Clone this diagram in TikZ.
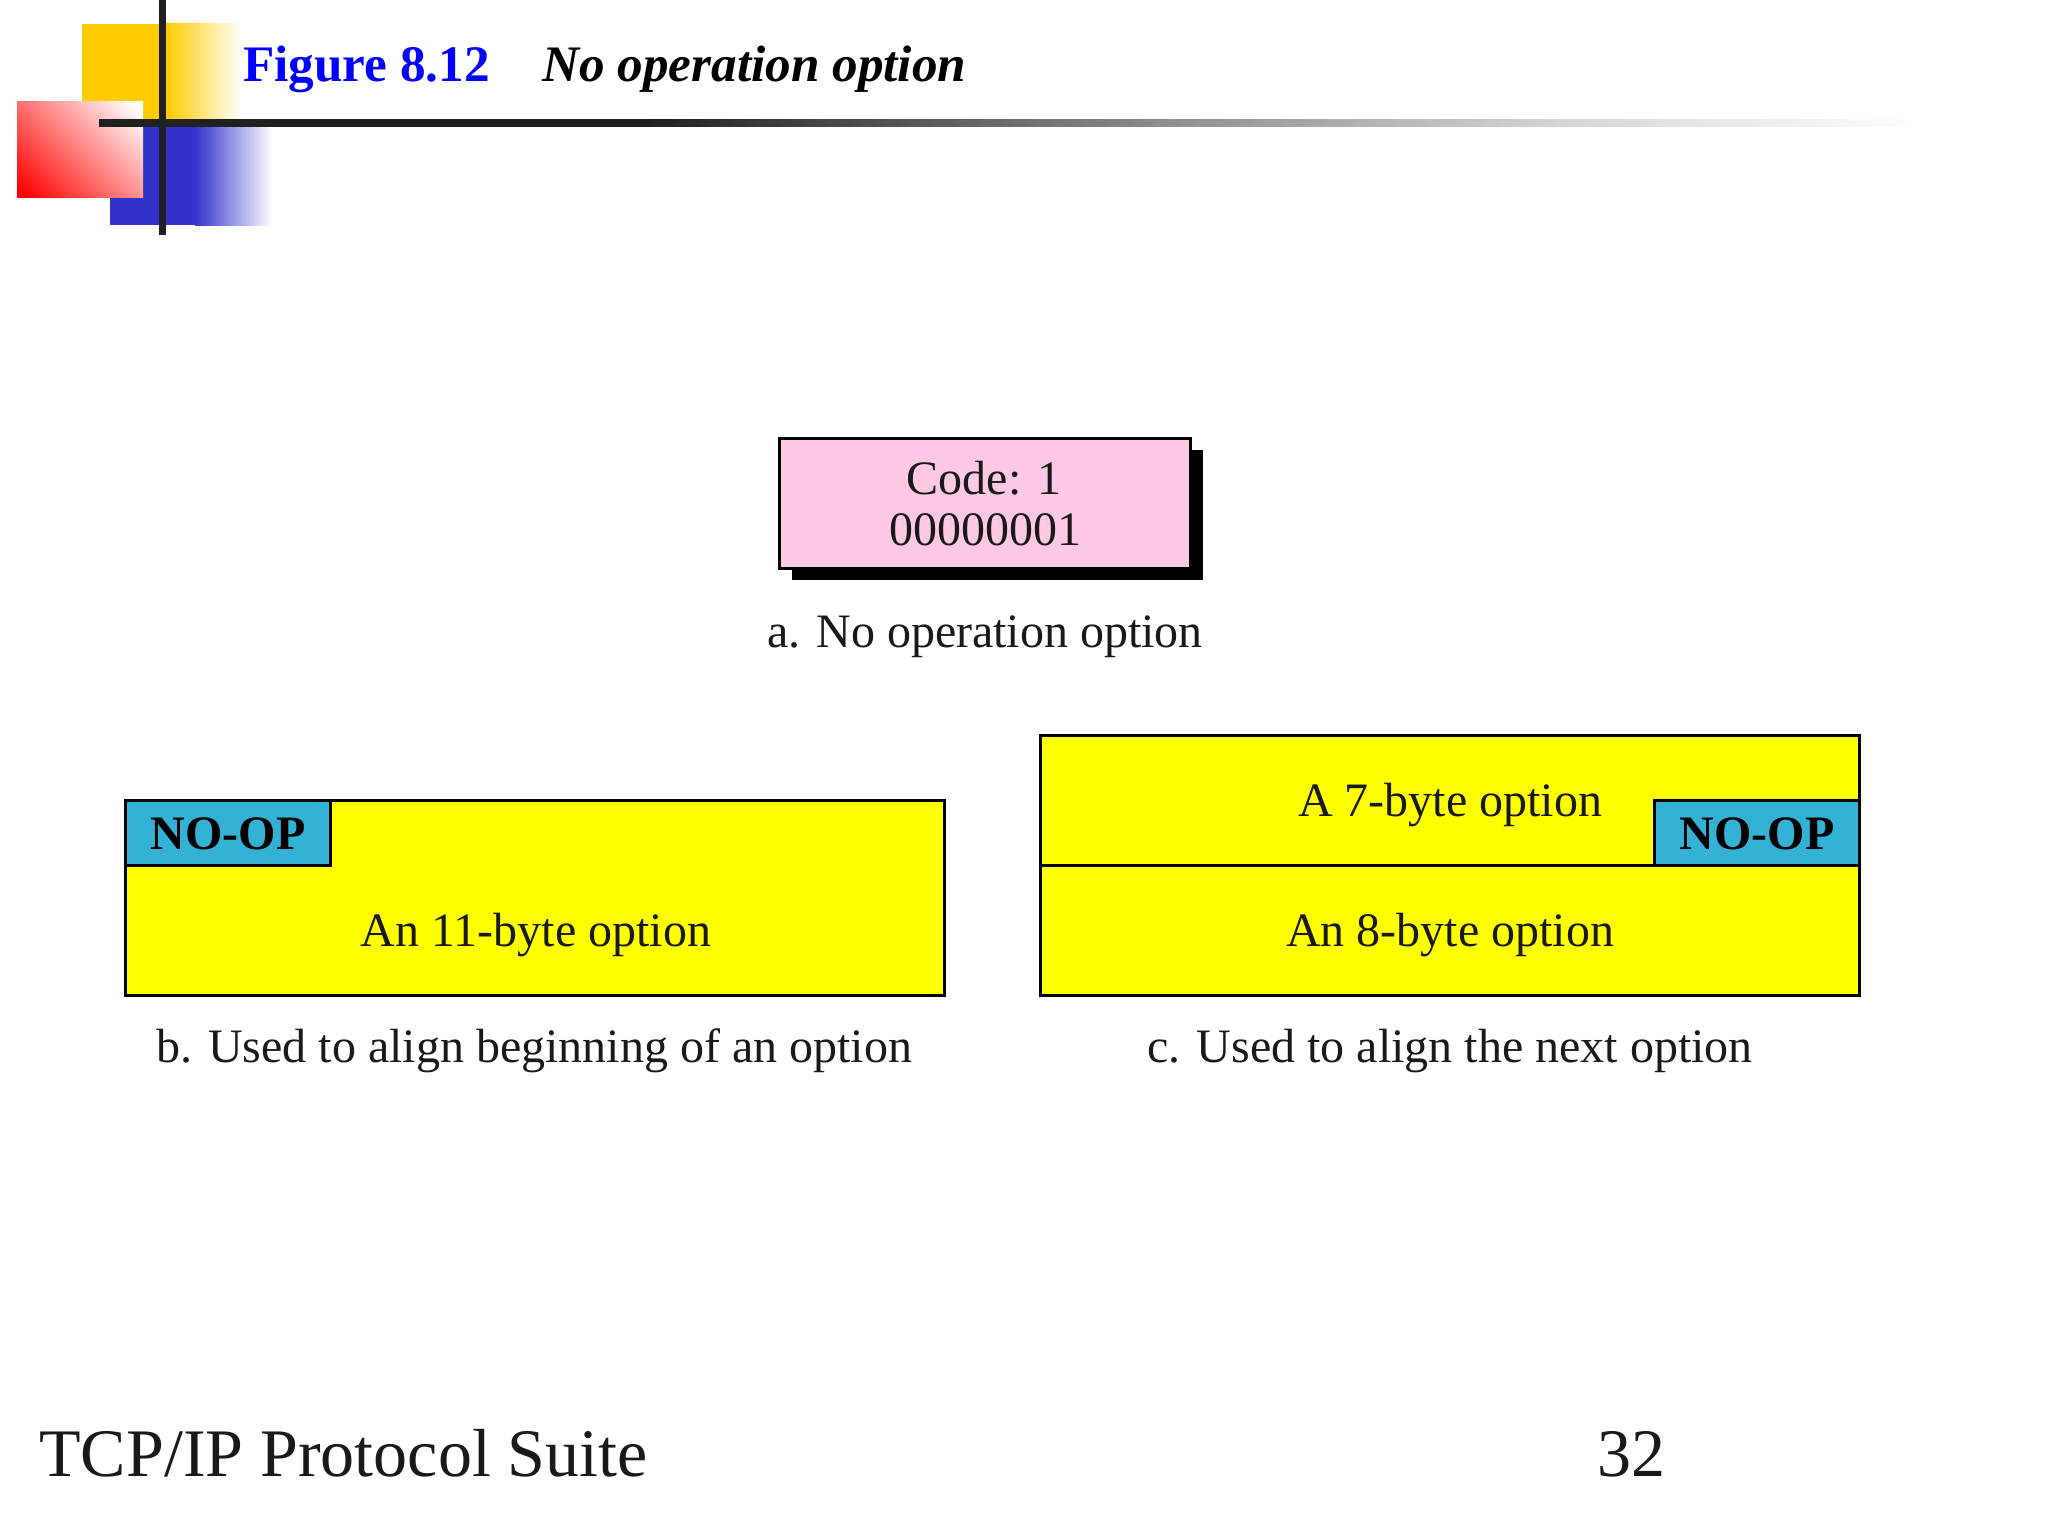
\documentclass[tikz,border=0pt]{standalone}
\usepackage{fontspec}
\setmainfont{Liberation Serif}
\definecolor{logoyellow}{RGB}{255,204,0}
\definecolor{logoblue}{RGB}{51,51,204}
\definecolor{barblack}{RGB}{32,32,32}
\definecolor{pinkfill}{RGB}{255,200,228}
\definecolor{nopcyan}{RGB}{51,178,214}
\definecolor{optyellow}{RGB}{255,255,0}
\pgfdeclarehorizontalshading{barfade}{100bp}{color(0bp)=(barblack); color(40bp)=(barblack); color(54.5bp)=(barblack!50!white); color(65.3bp)=(barblack!18!white); color(75bp)=(white); color(100bp)=(white)}
\pgfdeclareverticalshading{redfade}{100bp}{color(0bp)=(red); color(17bp)=(red); color(82bp)=(white); color(100bp)=(white)}
\tikzset{
  x=0.5pt,y=-0.5pt,
  optbox/.style={draw=black,fill=optyellow,line width=1.5pt,inner sep=0pt,outer sep=0pt},
  nopbox/.style={draw=black,fill=nopcyan,line width=1.5pt,inner sep=0pt,outer sep=0pt},
  pinkbox/.style={draw=black,fill=pinkfill,line width=1.5pt,inner sep=0pt,outer sep=0pt},
  shadowbox/.style={fill=black,inner sep=0pt,outer sep=0pt},
  bodytext/.style={anchor=base,inner sep=0pt,font=\fontsize{24}{28}\selectfont,text=black!90},
  noptext/.style={anchor=base,inner sep=0pt,font=\fontsize{24}{28}\selectfont\bfseries,text=black},
  titletext/.style={anchor=base west,inner sep=0pt,font=\fontsize{25.6}{30}\selectfont\bfseries},
  foottext/.style={anchor=base west,inner sep=0pt,font=\fontsize{34}{40}\selectfont,text=black!90},
  bar/.style={fill=barblack},
}
\begin{document}
\begin{tikzpicture}
\useasboundingbox[fill=white] (0,0) rectangle (2048,1536);
% logo
\fill[logoyellow] (82,24) rectangle (166,120);
\shade[left color=logoyellow,right color=white] (166,24) rectangle (242,120);
\fill[logoblue] (110,127) rectangle (195,225);
\shade[left color=logoblue,right color=white] (195,127) rectangle (272,225);
\shade[shading=redfade,shading angle=-45] (17,102) rectangle (143,197);
\fill[bar] (159,0) rectangle (166,235);
\shade[shading=barfade] (99,119) rectangle (1925,126);
% title
\node[titletext,text=blue] (fig) at (243,82) {Figure 8.12};
\node[titletext,font=\fontsize{25.6}{30}\selectfont\bfseries\itshape,text=black] (cap) at (542,82) {No operation option};
% part a
\node[shadowbox,minimum width=205.5pt,minimum height=65pt] (sh) at (997,515) {};
\node[pinkbox,minimum width=205.5pt,minimum height=65pt] (pink) at (984.5,503) {};
\node[bodytext] (code) at (984,494) {Code: 1};
\node[bodytext] (bits) at (985,545) {00000001};
\node[bodytext] (capa) at (985,647) {a. No operation option};
% part b
\node[optbox,minimum width=409.5pt,minimum height=97.5pt] (b11) at (534.5,897.5) {};
\node[nopbox,minimum width=102.5pt,minimum height=32.5pt] (bnop) at (227.5,832.5) {};
\node[noptext] (bnoptxt) at (228,849) {NO-OP};
\node[bodytext] (b11txt) at (536,946) {An 11-byte option};
\node[bodytext] (capb) at (534,1062) {b. Used to align beginning of an option};
% part c
\node[optbox,minimum width=409.5pt,minimum height=65pt] (c7) at (1449.5,800) {};
\node[optbox,minimum width=409.5pt,minimum height=65pt] (c8) at (1449.5,930) {};
\node[nopbox,minimum width=102.5pt,minimum height=32.5pt] (cnop) at (1756.5,832.5) {};
\node[noptext] (cnoptxt) at (1757,849) {NO-OP};
\node[bodytext] (c7txt) at (1450,816) {A 7-byte option};
\node[bodytext] (c8txt) at (1450,946) {An 8-byte option};
\node[bodytext] (capc) at (1450,1062) {c. Used to align the next option};
% footer
\node[foottext] (foot) at (39,1476) {TCP/IP Protocol Suite};
\node[foottext,anchor=base] (page) at (1631,1476) {32};
\end{tikzpicture}
\end{document}
